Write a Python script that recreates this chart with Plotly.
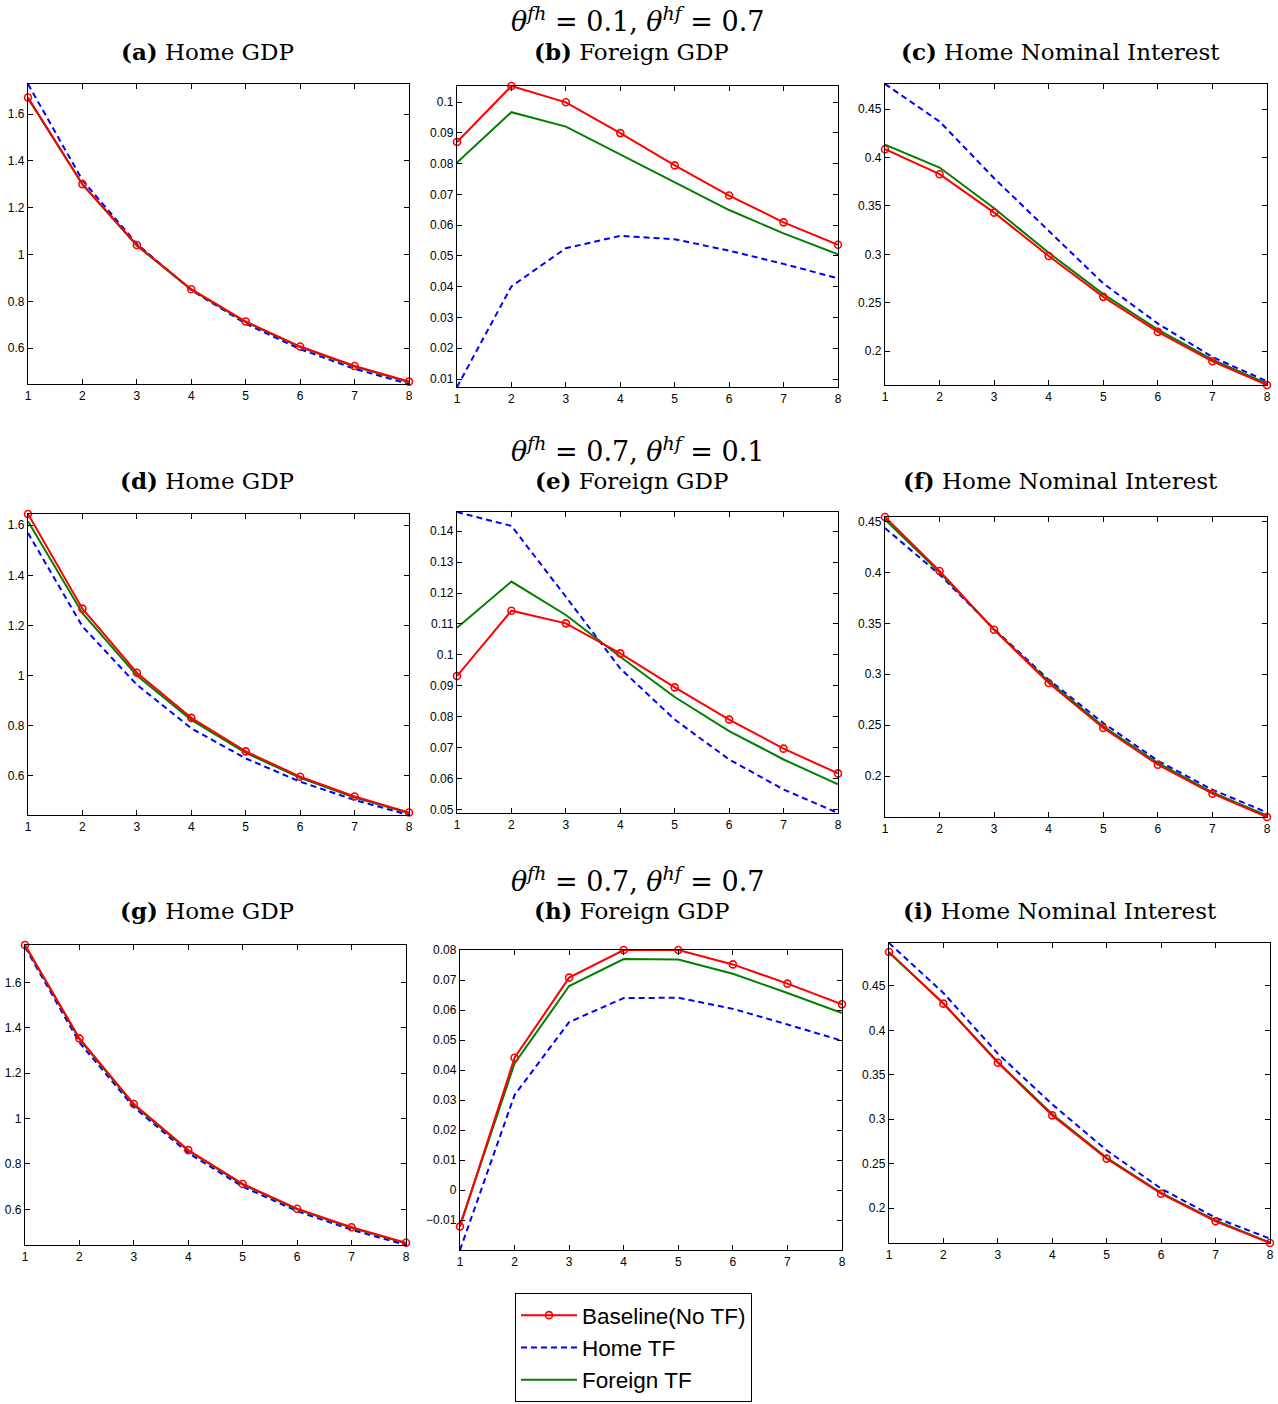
import plotly.graph_objects as go

W, H = 1278, 1404

periods = [1, 2, 3, 4, 5, 6, 7, 8]

# Row 1: theta_fh = 0.1, theta_hf = 0.7
a_base = [1.671, 1.301, 1.041, 0.852, 0.714, 0.607, 0.524, 0.457]
a_home = [1.729, 1.318, 1.046, 0.848, 0.705, 0.596, 0.512, 0.447]
a_foreign = [1.668, 1.300, 1.038, 0.850, 0.712, 0.605, 0.522, 0.455]

b_base = [0.0870, 0.1052, 0.0999, 0.0899, 0.0794, 0.0696, 0.0609, 0.0536]
b_home = [0.0074, 0.0401, 0.0525, 0.0565, 0.0554, 0.0517, 0.0474, 0.0427]
b_foreign = [0.0803, 0.0967, 0.0920, 0.0830, 0.0738, 0.0649, 0.0573, 0.0505]

c_base = [0.4086, 0.3828, 0.3431, 0.2983, 0.2562, 0.2200, 0.1897, 0.1652]
c_home = [0.4759, 0.4372, 0.3786, 0.3241, 0.2700, 0.2286, 0.1941, 0.1690]
c_foreign = [0.4134, 0.3897, 0.3476, 0.3017, 0.2590, 0.2224, 0.1914, 0.1666]

# Row 2: theta_fh = 0.7, theta_hf = 0.1
d_base = [1.645, 1.267, 1.011, 0.831, 0.697, 0.596, 0.517, 0.453]
d_home = [1.569, 1.196, 0.963, 0.789, 0.669, 0.576, 0.503, 0.443]
d_foreign = [1.616, 1.249, 1.000, 0.823, 0.691, 0.591, 0.513, 0.451]

e_base = [0.0932, 0.1143, 0.1102, 0.1005, 0.0895, 0.0791, 0.0697, 0.0617]
e_home = [0.1462, 0.1417, 0.1188, 0.0956, 0.0791, 0.0662, 0.0565, 0.0489]
e_foreign = [0.1088, 0.1237, 0.1129, 0.0994, 0.0864, 0.0754, 0.0662, 0.0582]

f_base = [0.4546, 0.4015, 0.3438, 0.2914, 0.2472, 0.2111, 0.1826, 0.1597]
f_home = [0.4438, 0.3980, 0.3445, 0.2947, 0.2521, 0.2150, 0.1865, 0.1642]
f_foreign = [0.4520, 0.4002, 0.3438, 0.2930, 0.2488, 0.2128, 0.1839, 0.1610]

# Row 3: theta_fh = 0.7, theta_hf = 0.7
g_base = [1.7645, 1.353, 1.064, 0.861, 0.712, 0.603, 0.521, 0.453]
g_home = [1.755, 1.335, 1.050, 0.848, 0.700, 0.592, 0.510, 0.443]
g_foreign = [1.762, 1.350, 1.060, 0.858, 0.709, 0.600, 0.519, 0.451]

h_base = [-0.0121, 0.0441, 0.0708, 0.0800, 0.0800, 0.0752, 0.0688, 0.0619]
h_home = [-0.0199, 0.0317, 0.0560, 0.0640, 0.0641, 0.0604, 0.0552, 0.0498]
h_foreign = [-0.0116, 0.0422, 0.0680, 0.0770, 0.0768, 0.0721, 0.0657, 0.0590]

i_base = [0.4883, 0.4301, 0.3636, 0.3043, 0.2556, 0.2161, 0.1850, 0.1606]
i_home = [0.4984, 0.4421, 0.3738, 0.3167, 0.2649, 0.2218, 0.1891, 0.1655]
i_foreign = [0.4875, 0.4305, 0.3645, 0.3055, 0.2565, 0.2170, 0.1860, 0.1612]

row_titles = [
    "<i>θ<sup>fh</sup></i> = 0.1, <i>θ<sup>hf</sup></i> = 0.7",
    "<i>θ<sup>fh</sup></i> = 0.7, <i>θ<sup>hf</sup></i> = 0.1",
    "<i>θ<sup>fh</sup></i> = 0.7, <i>θ<sup>hf</sup></i> = 0.7",
]
panel_letters = ["a", "b", "c", "d", "e", "f", "g", "h", "i"]
panel_names = ["Home GDP", "Foreign GDP", "Home Nominal Interest"] * 3
series_names = ["Baseline(No TF)", "Home TF", "Foreign TF"]

panels = [
    (a_base, a_home, a_foreign, 0.2),
    (b_base, b_home, b_foreign, 0.01),
    (c_base, c_home, c_foreign, 0.05),
    (d_base, d_home, d_foreign, 0.2),
    (e_base, e_home, e_foreign, 0.01),
    (f_base, f_home, f_foreign, 0.05),
    (g_base, g_home, g_foreign, 0.2),
    (h_base, h_home, h_foreign, 0.01),
    (i_base, i_home, i_foreign, 0.05),
]

# plot-area boxes in pixels: left, top, right, bottom
boxes = [
    (28, 84, 409, 384), (457, 86, 838, 387), (885, 84, 1267, 385),
    (28, 514, 409, 815), (457, 512, 838, 813), (885, 517, 1267, 817),
    (25, 945, 406, 1245), (460, 950, 842, 1250), (889, 943, 1270, 1243),
]

RED, BLUE, GREEN = "#ff0000", "#0000ff", "#007f00"
TICK_FONT = dict(family="Liberation Sans, Arial, sans-serif", size=12, color="black")

fig = go.Figure()
layout_axes = {}

for k, ((base, home, foreign, dt), (l, t, r, b)) in enumerate(zip(panels, boxes)):
    n = k + 1
    xa = "x" if n == 1 else f"x{n}"
    ya = "y" if n == 1 else f"y{n}"
    first = k == 0
    fig.add_trace(go.Scatter(
        x=periods, y=home, xaxis=xa, yaxis=ya, mode="lines",
        name=series_names[1], legendrank=2, showlegend=first, cliponaxis=False,
        line=dict(color=BLUE, width=2, dash="6px,4px"),
    ))
    fig.add_trace(go.Scatter(
        x=periods, y=foreign, xaxis=xa, yaxis=ya, mode="lines",
        name=series_names[2], legendrank=3, showlegend=first, cliponaxis=False,
        line=dict(color=GREEN, width=2),
    ))
    fig.add_trace(go.Scatter(
        x=periods, y=base, xaxis=xa, yaxis=ya, mode="lines+markers",
        name=series_names[0], legendrank=1, showlegend=first, cliponaxis=False,
        line=dict(color=RED, width=2),
        marker=dict(symbol="circle-open", size=7, color=RED, line=dict(width=1.6, color=RED)),
    ))

    lo = min(base + home + foreign)
    hi = max(base + home + foreign)
    common = dict(
        showline=True, linecolor="black", linewidth=1.3, mirror="ticks",
        ticks="inside", ticklen=5, tickwidth=1, tickcolor="black",
        showgrid=False, zeroline=False, tickfont=TICK_FONT, automargin=False,
    )
    layout_axes["xaxis" if n == 1 else f"xaxis{n}"] = dict(
        domain=[l / W, r / W], anchor=ya, range=[1, 8],
        tickmode="linear", tick0=1, dtick=1, **common,
    )
    layout_axes["yaxis" if n == 1 else f"yaxis{n}"] = dict(
        domain=[1 - b / H, 1 - t / H], anchor=xa, range=[lo, hi],
        tickmode="linear", tick0=0, dtick=dt, **common,
    )

annotations = []
SERIF = "DejaVu Serif, Liberation Serif, serif"
row_title_y = [20, 449, 879]
sub_title_y = [52, 480, 911]
sub_title_x = [207, 631, 1060]
for row in range(3):
    annotations.append(dict(
        text=row_titles[row], x=638 / W, y=1 - row_title_y[row] / H,
        xref="paper", yref="paper", xanchor="center", yanchor="middle",
        showarrow=False, font=dict(family=SERIF, size=27, color="black"),
    ))
    for col in range(3):
        k = row * 3 + col
        annotations.append(dict(
            text=f"<b>({panel_letters[k]})</b> {panel_names[k]}",
            x=sub_title_x[col] / W, y=1 - sub_title_y[row] / H,
            xref="paper", yref="paper", xanchor="center", yanchor="middle",
            showarrow=False, font=dict(family=SERIF, size=23, color="black"),
        ))

fig.update_layout(
    width=W, height=H,
    margin=dict(l=0, r=0, t=0, b=0, autoexpand=False),
    paper_bgcolor="white", plot_bgcolor="white",
    annotations=annotations,
    showlegend=True,
    legend=dict(
        x=515 / W, y=2 / H, xanchor="left", yanchor="bottom",
        bordercolor="black", borderwidth=1, bgcolor="white",
        font=dict(family="Liberation Sans, Arial, sans-serif", size=22.5, color="black"),
        tracegroupgap=0, itemwidth=56,
    ),
    **layout_axes,
)

fig.write_html("out.html")
